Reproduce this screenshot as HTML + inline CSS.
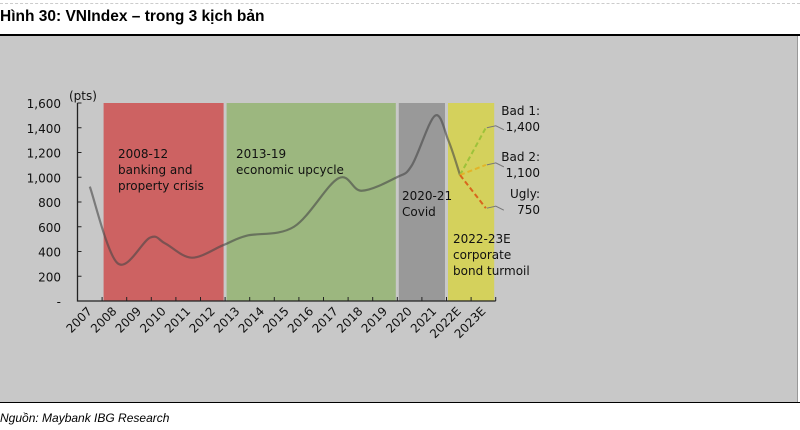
<!DOCTYPE html>
<html><head><meta charset="utf-8">
<style>
body{margin:0;width:800px;height:430px;background:#fff;overflow:hidden;font-family:"Liberation Sans",sans-serif}
#title{position:absolute;left:0;top:8px;font-weight:bold;font-size:15.5px;color:#000}
#rule{position:absolute;left:0;top:34px;width:800px;height:2px;background:#000}
#dots{position:absolute;left:0;top:3px;width:800px;border-top:1px dashed #ccc}
#panel{position:absolute;left:0;top:36px;width:797px;height:366px;background:#c8c8c8;border-right:1px solid #999}
#bottomrule{position:absolute;left:0;top:402px;width:800px;height:1px;background:#000}
#src{position:absolute;left:0;top:411px;font-size:12px;font-style:italic;color:#000}
svg{position:absolute;left:0;top:0}
svg text{font-family:"DejaVu Sans","Liberation Sans",sans-serif;font-size:12px;fill:#111}
</style></head><body>
<div id="dots"></div>
<div id="title">Hình 30: VNIndex – trong 3 kịch bản</div>
<div id="rule"></div>
<div id="panel"></div>
<div id="bottomrule"></div>
<div id="src">Nguồn: Maybank IBG Research</div>
<svg id="chart" width="800" height="430"></svg>
<script>
const categories=["2007","2008","2009","2010","2011","2012","2013","2014","2015","2016","2017","2018","2019","2020","2021","2022E","2023E"];
const yTicks=[0,200,400,600,800,1000,1200,1400,1600];
const yTickLabels=["-","200","400","600","800","1,000","1,200","1,400","1,600"];
const linePos=[0,1.13,2.45,3.06,4.14,5.43,6.38,8.3,10.1,11.05,12.48,13.1,14.03,14.57,15.05];
const lineVals=[924,305,512,466,350,452,528,600,991,891,1000,1099,1497,1301,1018];
const scenarioNames=["Bad 1:","Bad 2:","Ugly:"];
const scenarioLabels=["1,400","1,100","750"];
const scenarioVals=[1400,1100,750];
const scenarioStartPos=15.05, scenarioStartVal=1018, scenarioEndPos=16.1;
const bandStart=[1,6,13,15];
const bandEnd=[5,12,14,16];
const bandColors=["#cd6262","#9cb77f","#999999","#d4d15c"];
const bandText=[["2008-12","banking and","property crisis"],["2013-19","economic upcycle"],["2020-21","Covid"],["2022-23E","corporate","bond turmoil"]];

const NS="http://www.w3.org/2000/svg";
const svg=document.getElementById('chart');
const X0=77.5,CW=24.6,Y0=301,YT=103,YMAX=1600;
const xPos=i=>X0+(i+0.5)*CW;
const xEdge=i=>X0+i*CW;
const yPos=v=>Y0-(v/YMAX)*(Y0-YT);
function el(t,a){const e=document.createElementNS(NS,t);for(const k in a)e.setAttribute(k,a[k]);svg.appendChild(e);return e;}

bandStart.forEach((s,i)=>{
 const x1=xEdge(s)+1.5,x2=xEdge(bandEnd[i]+1)-1.5;
 const r=el('rect',{x:x1,y:YT,width:x2-x1,height:Y0-YT,fill:bandColors[i]});
 
 
});
const textPos=[[118,158],[236,158],[402,200],[453,243]];
bandText.forEach((lines,i)=>{
 lines.forEach((ln,j)=>{
  const t=el('text',{x:textPos[i][0],y:textPos[i][1]+j*16});
  t.textContent=ln;
  
  
 });
});
const ax=el('path',{d:`M${X0},${YT}V${Y0}H${xEdge(categories.length)}`,stroke:'#222','stroke-width':1.3,fill:'none'});


yTicks.forEach((v,i)=>{
 el('line',{x1:X0,x2:X0+4,y1:yPos(v),y2:yPos(v),stroke:'#222'});
 const t=el('text',{x:61,y:yPos(v)+5,'text-anchor':'end'});
 t.textContent=yTickLabels[i];
 
 
});
const u=el('text',{x:69,y:100});u.textContent='(pts)';


categories.forEach((c,i)=>{
 el('line',{x1:xEdge(i+1),x2:xEdge(i+1),y1:Y0,y2:Y0-4,stroke:'#222'});
 const x=xPos(i)+3,y=Y0+11;
 const t=el('text',{x:x,y:y,'text-anchor':'end',transform:`rotate(-45 ${x} ${y})`});
 t.textContent=c;
 
 
});
const pts=linePos.map((p,i)=>[xPos(p),yPos(lineVals[i])]);
let d=`M${pts[0][0]},${pts[0][1]}`;
for(let i=0;i<pts.length-1;i++){
 const p0=pts[Math.max(0,i-1)],p1=pts[i],p2=pts[i+1],p3=pts[Math.min(pts.length-1,i+2)];
 const c1=[p1[0]+(p2[0]-p0[0])/6,p1[1]+(p2[1]-p0[1])/6];
 const c2=[p2[0]-(p3[0]-p1[0])/6,p2[1]-(p3[1]-p1[1])/6];
 d+=`C${c1[0]},${c1[1]} ${c2[0]},${c2[1]} ${p2[0]},${p2[1]}`;
}
const ln=el('path',{d:d,stroke:'rgba(70,70,70,0.6)','stroke-width':2.2,fill:'none'});


const scColors=["#9dc23a","#e2b428","#d8661c"];
const labelY=[115,161,198];
scenarioVals.forEach((v,i)=>{
 const ex=xPos(scenarioEndPos),ey=yPos(v);
 const s=el('line',{x1:xPos(scenarioStartPos),y1:yPos(scenarioStartVal),x2:ex,y2:ey,stroke:scColors[i],'stroke-width':2,'stroke-dasharray':'5,3'});
 
 
 const c=el('polyline',{points:`${ex+1},${ey} ${ex+10},${ey-2} ${ex+18},${ey+2}`,stroke:'#777','stroke-width':1,fill:'none'});
 
 
 const t1=el('text',{x:540,y:labelY[i],'text-anchor':'end'});t1.textContent=scenarioNames[i];
 
 
 const t2=el('text',{x:540,y:labelY[i]+16,'text-anchor':'end'});t2.textContent=scenarioLabels[i];
 
 
});
</script>
</body></html>
